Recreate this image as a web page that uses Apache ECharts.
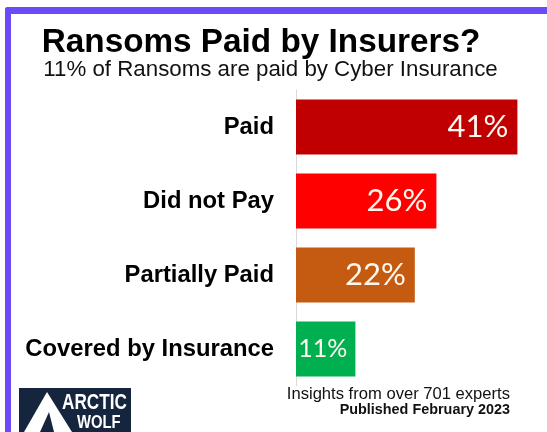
<!DOCTYPE html>
<html>
<head>
<meta charset="utf-8">
<script src="https://cdn.jsdelivr.net/npm/echarts@6/dist/echarts.min.js"></script>
<style>
html,body{margin:0;padding:0;background:#fff;}
#chart{width:547px;height:432px;}
</style>
</head>
<body>
<div id="chart"></div>
<script>
const categories = ['Paid', 'Did not Pay', 'Partially Paid', 'Covered by Insurance'];
const values = [41, 26, 22, 11];
const barColors = ['#C00000', '#FF0000', '#C55A11', '#00B050'];
const titleText = 'Ransoms Paid by Insurers?';
const subtitleText = '11% of Ransoms are paid by Cyber Insurance';
const footerLine1 = 'Insights from over 701 experts';
const footerLine2 = 'Published February 2023';

const chart = echarts.init(document.getElementById('chart'), null, {renderer: 'canvas'});
const FONT = 'Liberation Sans, Arial, sans-serif';

const option = {
  backgroundColor: '#fff',
  animation: false,
  title: [
    {text: titleText, left: 256, top: 21, textAlign: 'center',
     textStyle: {fontFamily: FONT, fontSize: 33.3, fontWeight: 'bold', color: '#000'}},
    {text: subtitleText, left: 265.5, top: 54, textAlign: 'center',
     textStyle: {fontFamily: FONT, fontSize: 22.3, fontWeight: 'normal', color: '#111'}}
  ],
  grid: {left: 296, right: 8, top: 90, bottom: 46, containLabel: false},
  xAxis: {type: 'value', min: 0, max: 45, show: false},
  yAxis: {
    type: 'category', data: categories, inverse: true,
    axisLine: {show: true, lineStyle: {color: '#d9d9d9', width: 1}},
    axisTick: {show: false},
    axisLabel: {fontFamily: FONT, fontSize: 23.8, fontWeight: 'bold', color: '#000', margin: 22}
  },
  series: [{
    type: 'bar',
    data: values.map((v, i) => {
      const d = {value: v, itemStyle: {color: barColors[i]}};
      if (i === values.length - 1) d.label = {fontSize: 25, distance: 8};
      return d;
    }),
    barCategoryGap: '26%',
    label: {show: true, position: 'insideRight', distance: 9, formatter: '{c}%',
      fontFamily: 'Lato, Open Sans, sans-serif', fontSize: 31, color: '#fff8f0'}
  }],
  graphic: [
    {type: 'rect', shape: {x: 5, y: 7, width: 542, height: 7, r: [3, 0, 0, 0]}, style: {fill: '#6A4BF5'}},
    {type: 'rect', shape: {x: 5, y: 7, width: 6, height: 425, r: [3, 0, 0, 0]}, style: {fill: '#6A4BF5'}},
    {type: 'rect', shape: {x: 19, y: 388, width: 112, height: 44}, style: {fill: '#14253D'}},
    {type: 'polygon', shape: {points: [[24, 432], [47, 392], [72, 432]]}, style: {fill: '#fff'}},
    {type: 'polygon', shape: {points: [[40, 432], [49, 412], [54, 432]]}, style: {fill: '#14253D'}},
    {type: 'text', x: 62, y: 403, scaleX: 0.78,
      style: {text: 'ARCTIC', x: 0, y: 0, align: 'left', verticalAlign: 'middle',
      font: 'bold 22px "Liberation Sans", Arial, sans-serif', fill: '#fff'}},
    {type: 'text', x: 77, y: 423, scaleX: 0.78,
      style: {text: 'WOLF', x: 0, y: 0, align: 'left', verticalAlign: 'middle',
      font: 'bold 19px "Liberation Sans", Arial, sans-serif', fill: '#fff'}},
    {type: 'text', style: {text: footerLine1, x: 510, y: 394, align: 'right', verticalAlign: 'middle',
      font: '16.6px "Liberation Sans", Arial, sans-serif', fill: '#111'}},
    {type: 'text', style: {text: footerLine2, x: 510, y: 410, align: 'right', verticalAlign: 'middle',
      font: 'bold 14.4px "Liberation Sans", Arial, sans-serif', fill: '#111'}}
  ]
};
chart.setOption(option);
</script>
</body>
</html>
